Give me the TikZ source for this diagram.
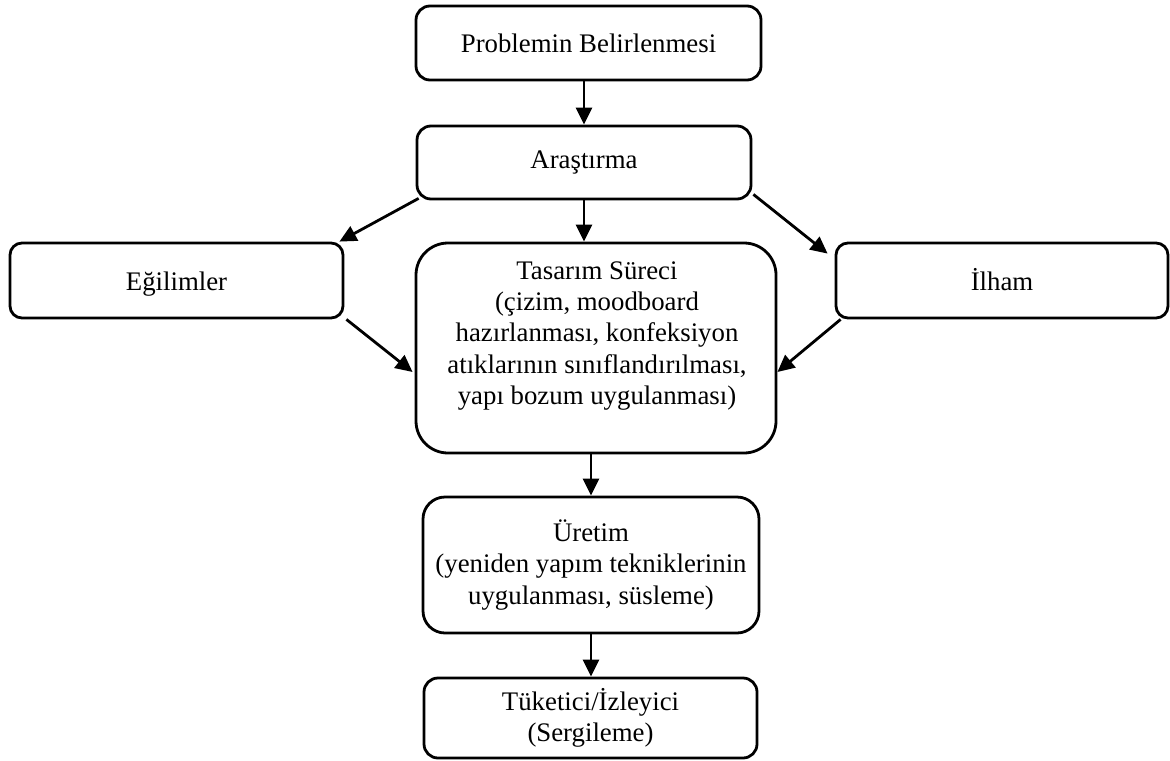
\documentclass[tikz,border=0pt]{standalone}
\usepackage{fontspec}
\setmainfont{Liberation Serif}
\usetikzlibrary{arrows.meta,calc}
\begin{document}
\begin{tikzpicture}[x=0.5pt,y=-0.5pt,
  txt/.style={align=center, inner sep=0pt, font=\fontsize{13.4}{15.6}\selectfont},
  box/.style={draw, line width=1.4pt, rounded corners=7pt, txt},
  side/.style={text height=12pt, text depth=2pt, rounded corners=6pt},
  arr/.style={-{Triangle[length=8.5pt,width=8pt]}, line width=1.4pt}]
\useasboundingbox (0,0) rectangle (1170,760);
\node[box, minimum width=172.5pt, minimum height=37pt] (P) at (588.5,43) {Problemin Belirlenmesi};
\node[box, minimum width=167pt, minimum height=36.5pt] (A) at (584,162.5) {Araştırma};
\node[box, side, minimum width=166.5pt, minimum height=37.5pt] (E) at (176.5,280.5) {Eğilimler};
\node[box, minimum width=180pt, minimum height=105pt, rounded corners=16pt] (T) at (596,348) {};
\node[txt] (Tt) at (597,336) {Tasarım Süreci\\(çizim, moodboard\\hazırlanması, konfeksiyon\\atıklarının sınıflandırılması,\\yapı bozum uygulanması)};
\node[box, side, minimum width=166pt, minimum height=37.5pt] (I) at (1002,280.5) {İlham};
\node[box, minimum width=168pt, minimum height=68pt, rounded corners=11pt] (U) at (591,565) {Üretim\\(yeniden yapım tekniklerinin\\uygulanması, süsleme)};
\node[box, minimum width=166.5pt, minimum height=40pt] (K) at (590.5,718) {Tüketici/İzleyici\\(Sergileme)};

\draw[arr] (A.north |- P.south) -- (A.north);
\draw[arr] (A.south) -- (A.south |- T.north);
\draw[arr] ($(A.south west)+(3,-2)$) -- ($(E.north east)+(-5,0)$);
\draw[arr] ($(A.south east)+(1,-6)$) -- ($(I.north west)+(-7,12)$);
\draw[arr] ($(E.south east)+(2,0)$) -- ($(T.west)+(-2,24)$);
\draw[arr] ($(I.south west)+(6,0)$) -- ($(T.east)+(0,24)$);
\draw[arr] (U.north |- T.south) -- (U.north);
\draw[arr] (U.south) -- (U.south |- K.north);
\end{tikzpicture}
\end{document}
